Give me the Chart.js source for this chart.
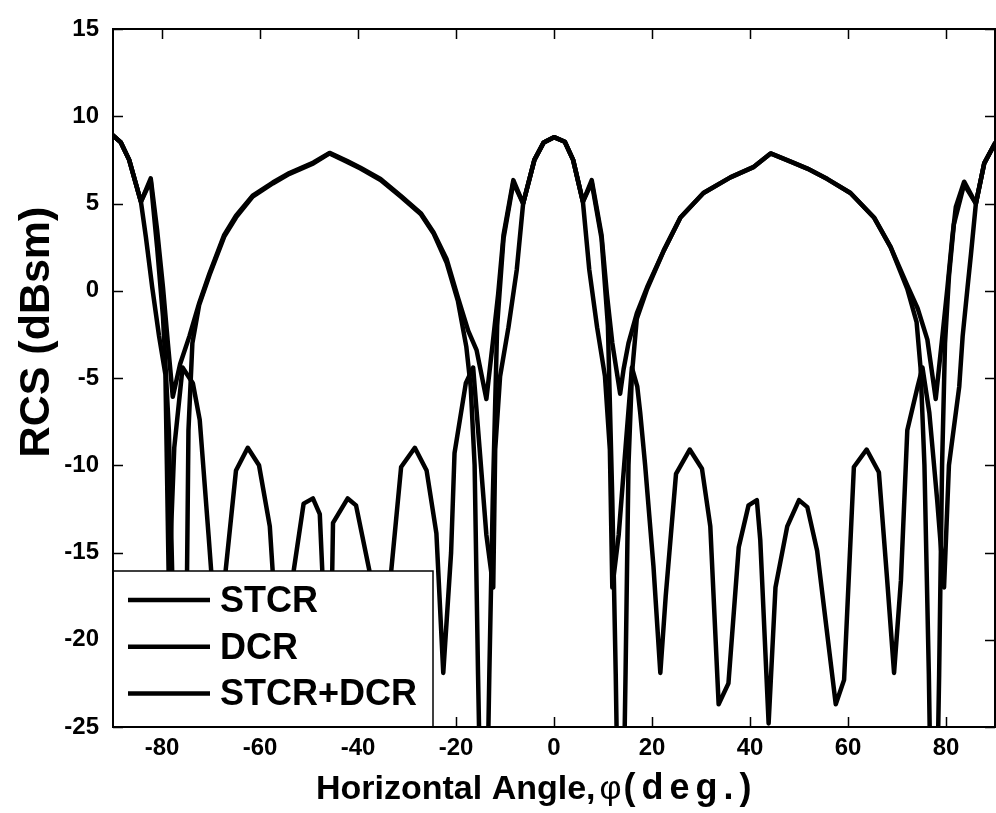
<!DOCTYPE html>
<html>
<head>
<meta charset="utf-8">
<script src="https://cdn.jsdelivr.net/npm/chart.js@4.4.1/dist/chart.umd.min.js"></script>
<style>
html, body { margin: 0; padding: 0; background: #fff; }
</style>
</head>
<body>
<canvas id="rcsChart" width="996" height="813"></canvas>
<script>
// STCR: broad lobes at 0, +-45, +-90 with deep nulls between
var stcrAngle = [-90, -88.4, -86.7, -84.3, -82.3, -81, -79.8, -78.6, -77.6, -76.2, -75.1, -74.6, -73.8, -72.4, -70.3,
    -67.3, -64.9, -61.5, -57.4, -54, -49.1, -45.8, -42.3, -39.5, -35.4, -31.3, -27.2, -24.6, -21.9, -19.6,
    -17.9, -17, -16.2, -15.5, -14.3, -13.2, -12.5, -11.6, -10.3, -8.3, -6.3, -4, -2.1, 0,
    2.2, 3.9, 5.9, 7.7, 9.7, 11, 11.9, 12.6, 13.6, 14.6, 15.2, 15.9, 16.9, 19, 22.4, 25.8,
    30.5, 36, 40.8, 44.2, 48.3, 51.7, 55.8, 60.5, 65.3, 68.7, 72.1, 74, 74.8, 75.6, 76.5,
    77.5, 78.6, 79.2, 79.8, 80.6, 81.6, 83.7, 86.1, 87.8, 90];
var stcrRcs = [8.9, 8.5, 7.5, 5.1, 6.3, 2.5, -1.5, -8, -20, -40, -22, -8, -3.0, -0.8, 0.9,
    3.1, 4.2, 5.4, 6.15, 6.7, 7.3, 7.87, 7.4, 7.0, 6.34, 5.4, 4.4, 3.3, 1.6, -0.6,
    -3.2, -5.5, -10, -22, -40, -22, -12, -2, 3.0, 6.2, 5.0, 7.5, 8.5, 8.8,
    8.54, 7.5, 5.1, 6.2, 3.0, -2, -12, -22, -40, -22, -10, -4.8, -1.6, 0.1, 2.3, 4.2,
    5.6, 6.5, 7.1, 7.87, 7.4, 7.0, 6.4, 5.6, 4.2, 2.5, 0.1, -1.8, -4.4, -10, -22,
    -40, -22, -10, -3, 0.8, 3.8, 6.1, 5.0, 7.3, 8.45];

// DCR: narrow main lobes at 0 and +-90 with side lobes
var dcrAngle = [-90, -88.4, -86.7, -84.3, -83.3, -82, -80.6, -79.3, -78.6, -77.5, -75.8, -73.7, -72.3, -70.5, -68.4,
    -67, -64.9, -62.5, -60.2, -58, -55.6, -53.1, -51.1, -49.2, -47.8, -45.8, -45.1, -42.1, -40.4, -37.7,
    -35.4, -33.2, -31.2, -28.4, -26, -24, -22.6, -21, -20.3, -18, -16.5, -15.2, -13.8, -12.4, -12,
    -11, -9.3, -7.6, -6.3, -4, -2.1, 0, 2.2, 3.9, 5.9, 7.2, 8.8, 10.4, 11.4, 11.9,
    13.2, 14.6, 15.9, 17, 17.6, 18.6, 20.3, 21.7, 22.8, 24.9, 27.7, 30.2, 31.9, 33.6, 35.6,
    37.7, 39.7, 41.4, 42.1, 43.8, 45.2, 47.6, 50, 51.7, 53.7, 57.5, 59.2, 61.2, 63.8, 66.3,
    68, 69.4, 70.8, 72.1, 74.2, 75.2, 76.6, 78.2, 79.6, 80.6, 82.7, 83.4, 84.4, 85.1, 86.1,
    87.8, 90];
var dcrRcs = [8.9, 8.5, 7.5, 5.1, 3.1, 0.2, -2.6, -4.8, -17, -9, -4.4, -5.3, -7.4, -14, -22,
    -16, -10.3, -9.0, -10.0, -13.5, -24, -16, -12.2, -11.9, -12.8, -25.5, -13.3, -11.9, -12.3, -16,
    -24, -16, -10.1, -9.0, -10.3, -13.9, -21.9, -15, -9.3, -5.3, -4.4, -9, -14, -17, -9.1,
    -4.9, -2.1, 1.2, 5.0, 7.5, 8.5, 8.8, 8.54, 7.5, 5.1, 1.2, -2.1, -4.9, -9.1, -17,
    -14, -9, -4.4, -5.5, -7.0, -10, -15.8, -21.9, -17.5, -10.5, -9.1, -10.2, -13.5, -23.7, -22.5,
    -14.7, -12.3, -12.0, -14.3, -24.8, -17, -13.5, -12.0, -12.4, -14.9, -23.7, -22.3, -10.1, -9.1, -10.4,
    -16.6, -21.9, -16.6, -8.0, -5.5, -4.4, -7, -12, -17, -10, -5.5, -2.6, 0.2, 2.1, 5.0,
    7.3, 8.45];

// STCR+DCR
var sumAngle = [-90, -88.4, -86.7, -84.3, -82.3, -81, -79.8, -78.8, -77.8, -76.3, -74.4, -72.4, -70.3, -67.3, -64.9,
    -61.5, -57.4, -54, -49.1, -45.8, -42.3, -39.5, -35.4, -31.3, -27.2, -24.6, -21.9, -19.6, -17.5, -15.8,
    -13.8, -12.5, -11.4, -10.3, -8.3, -6.3, -4, -2.1, 0, 2.2, 3.9, 5.9, 7.7, 9.7, 10.8,
    11.9, 13.5, 14.2, 15.2, 16.9, 19, 22.4, 25.8, 30.5, 36, 40.8, 44.2, 48.3, 51.7, 55.8,
    60.5, 65.3, 68.7, 72.1, 74.2, 76.2, 77.9, 79.3, 80.3, 81.3, 82, 83.7, 86.1, 87.8, 90];
var sumRcs = [8.9, 8.5, 7.5, 5.1, 6.44, 3.5, 0.2, -3, -6.07, -4.2, -2.6, -0.7, 1.0, 3.2, 4.3,
    5.45, 6.2, 6.75, 7.35, 7.9, 7.45, 7.05, 6.4, 5.45, 4.45, 3.35, 1.8, -0.4, -2.3, -3.4,
    -6.2, -3, -0.2, 3.2, 6.34, 5.0, 7.5, 8.5, 8.8, 8.54, 7.5, 5.1, 6.34, 3.2, -0.2,
    -3, -5.9, -4.5, -3.0, -1.3, 0.2, 2.3, 4.2, 5.6, 6.5, 7.1, 7.87, 7.4, 7.0, 6.4,
    5.6, 4.2, 2.5, 0.3, -1.0, -2.8, -6.2, -2.5, 0.2, 3.1, 4.8, 6.25, 5.0, 7.3, 8.45];

var seriesNames = ['STCR', 'DCR', 'STCR+DCR'];
var xTickValues = [-80, -60, -40, -20, 0, 20, 40, 60, 80];

var FONT = '"Liberation Sans", Arial, Helvetica, sans-serif';

function toPoints(xs, ys) {
    return xs.map(function (x, i) {
        return {x: x, y: ys[i]};
    });
}

function makeDataset(label, xs, ys) {
    return {
        label: label,
        data: toPoints(xs, ys),
        borderColor: '#000',
        backgroundColor: '#000',
        borderWidth: 4.5,
        pointRadius: 0,
        tension: 0,
        borderJoinStyle: 'round',
        borderCapStyle: 'round',
        fill: false
    };
}

// inward tick marks, frame, legend box and axis titles
var figureDecor = {
    id: 'figureDecor',
    afterDatasetsDraw: function (chart) {
        var ctx = chart.ctx;
        var a = chart.chartArea;
        var xs = chart.scales.x;
        var ys = chart.scales.y;
        ctx.save();
        ctx.strokeStyle = '#000';
        ctx.lineWidth = 1.5;
        ctx.beginPath();
        xs.ticks.forEach(function (t) {
            var px = Math.round(xs.getPixelForValue(t.value)) + 0.5;
            ctx.moveTo(px, a.bottom);
            ctx.lineTo(px, a.bottom - 10);
            ctx.moveTo(px, a.top);
            ctx.lineTo(px, a.top + 10);
        });
        ys.ticks.forEach(function (t) {
            var py = Math.round(ys.getPixelForValue(t.value)) + 0.5;
            ctx.moveTo(a.left, py);
            ctx.lineTo(a.left + 10, py);
            ctx.moveTo(a.right, py);
            ctx.lineTo(a.right - 10, py);
        });
        ctx.stroke();

        // legend
        var lx = a.left, ly = 571, lw = 320, lh = a.bottom - 571;
        ctx.fillStyle = '#fff';
        ctx.fillRect(lx, ly, lw, lh);
        ctx.lineWidth = 1.5;
        ctx.strokeRect(lx, ly, lw, lh);
        ctx.font = 'bold 36px ' + FONT;
        ctx.textBaseline = 'middle';
        ctx.textAlign = 'left';
        ctx.fillStyle = '#000';
        chart.data.datasets.forEach(function (ds, i) {
            var rowY = 600 + i * 46.7;
            ctx.lineWidth = 4.5;
            ctx.beginPath();
            ctx.moveTo(lx + 15, rowY);
            ctx.lineTo(lx + 97, rowY);
            ctx.stroke();
            ctx.fillText(ds.label, lx + 107, rowY + 2);
        });

        // frame
        ctx.lineWidth = 2;
        ctx.strokeRect(a.left, a.top, a.right - a.left, a.bottom - a.top);

        // axis titles
        ctx.fillStyle = '#000';
        ctx.textBaseline = 'alphabetic';
        ctx.textAlign = 'left';
        ctx.font = 'bold 34px ' + FONT;
        var tx = 316, ty = 799;
        var part1 = 'Horizontal Angle,';
        ctx.fillText(part1, tx, ty);
        tx += ctx.measureText(part1).width + 4;
        ctx.font = '34px ' + FONT;
        ctx.fillText('\u03c6', tx, ty);
        tx += ctx.measureText('\u03c6').width + 2;
        ctx.font = 'bold 36px ' + FONT;
        ctx.letterSpacing = '6px';
        ctx.fillText('(deg.)', tx, ty);
        ctx.letterSpacing = '0px';

        ctx.translate(37, 332);
        ctx.rotate(-Math.PI / 2);
        ctx.textAlign = 'center';
        ctx.textBaseline = 'middle';
        ctx.font = 'bold 43px ' + FONT;
        ctx.fillText('RCS (dBsm)', 0, 0);
        ctx.restore();
    }
};

new Chart(document.getElementById('rcsChart'), {
    type: 'line',
    data: {
        datasets: [
            makeDataset(seriesNames[0], stcrAngle, stcrRcs),
            makeDataset(seriesNames[1], dcrAngle, dcrRcs),
            makeDataset(seriesNames[2], sumAngle, sumRcs)
        ]
    },
    options: {
        responsive: false,
        animation: false,
        devicePixelRatio: 1,
        layout: {padding: {top: 29, right: 1, left: 0, bottom: 0}},
        plugins: {legend: {display: false}, tooltip: {enabled: false}},
        scales: {
            x: {
                type: 'linear',
                min: -90,
                max: 90,
                afterFit: function (scale) {
                    scale.height = 86;
                },
                afterBuildTicks: function (scale) {
                    scale.ticks = xTickValues.map(function (v) {
                        return {value: v};
                    });
                },
                grid: {display: false, drawTicks: false},
                border: {display: false},
                ticks: {
                    color: '#000',
                    padding: 7,
                    maxRotation: 0,
                    font: {family: FONT, size: 24, weight: 'bold'}
                }
            },
            y: {
                type: 'linear',
                min: -25,
                max: 15,
                afterFit: function (scale) {
                    scale.width = 113;
                },
                grid: {display: false, drawTicks: false},
                border: {display: false},
                ticks: {
                    stepSize: 5,
                    color: '#000',
                    padding: 14,
                    font: {family: FONT, size: 24, weight: 'bold'}
                }
            }
        }
    },
    plugins: [figureDecor]
});
</script>
</body>
</html>
